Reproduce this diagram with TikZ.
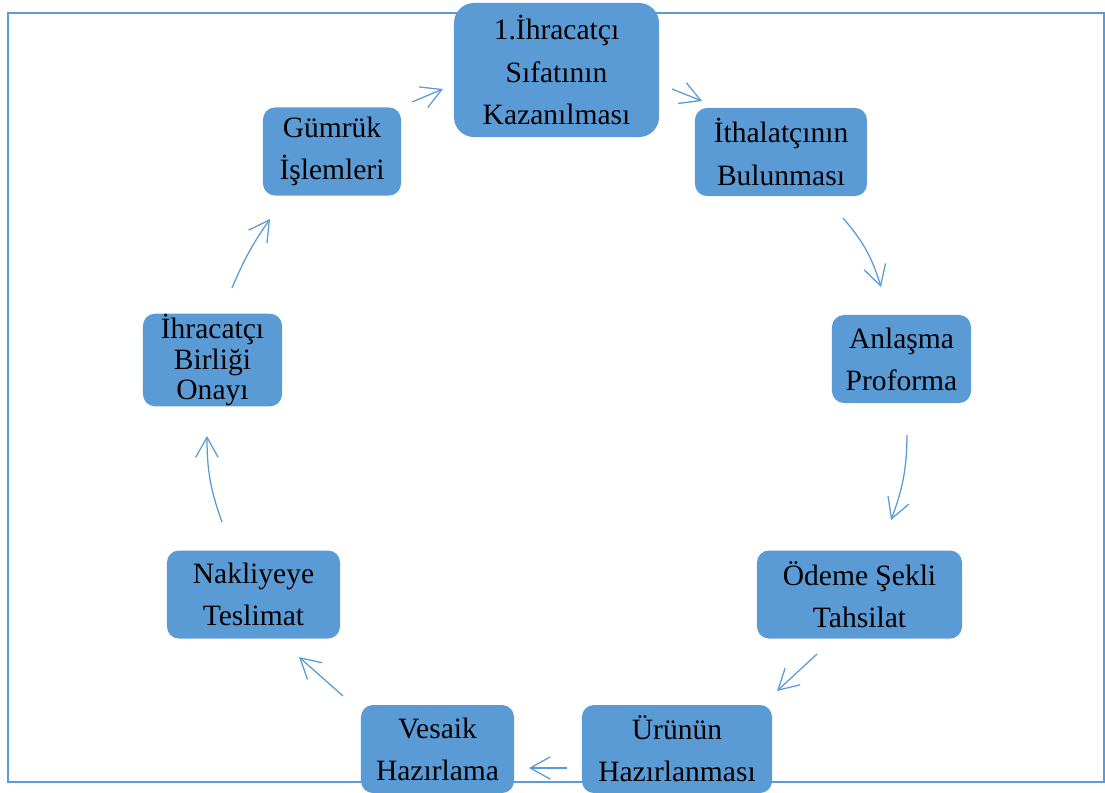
\documentclass[tikz,border=0pt]{standalone}
\usepackage{fontspec}
\setmainfont{Liberation Serif}
\usetikzlibrary{arrows.meta}

\definecolor{ofisMavi}{HTML}{5B9BD5}

\tikzset{
  adim/.style={fill=ofisMavi, rounded corners=0.3cm, align=center, inner sep=0pt,
    font=\fontsize{21}{30}\selectfont, minimum height=2.2cm},
  ok/.style={draw=ofisMavi, line width=0.9pt, -{Straight Barb[length=5mm,width=5.6mm]}}
}

\begin{document}
\begin{tikzpicture}[x=0.025cm, y=-0.025cm]
			%%%%% START %%%%%
			
			\useasboundingbox (0, 0) rectangle (1105, 792);
			\draw[ofisMavi, line width=2pt] (8, 13) rectangle (1104, 782);
			
			\node[adim, minimum width=5.125cm, minimum height=3.35cm, rounded corners=0.5cm] (kazanma) at (556.5, 70) {1.İhracatçı\\Sıfatının\\Kazanılması};
			\node[adim, minimum width=4.3cm] (ithalatci) at (781, 152) {İthalatçının\\Bulunması};
			\node[adim, minimum width=3.475cm] (anlasma) at (901.5, 359) {Anlaşma\\Proforma};
			\node[adim, minimum width=5.125cm] (odeme) at (859.5, 594.5) {Ödeme Şekli\\Tahsilat};
			\node[adim, minimum width=4.75cm] (urun) at (677, 749) {Ürünün\\Hazırlanması};
			\node[adim, minimum width=3.825cm] (vesaik) at (437.5, 749) {Vesaik\\Hazırlama};
			\node[adim, minimum width=4.325cm] (nakliye) at (253.5, 594.5) {Nakliyeye\\Teslimat};
			\node[adim, minimum width=3.475cm, font=\fontsize{21}{22}\selectfont] (birlik) at (212.5, 360) {İhracatçı\\Birliği\\Onayı};
			\node[adim, minimum width=3.45cm] (gumruk) at (332, 151.5) {Gümrük\\İşlemleri};
			
			\coordinate (o1a) at (412, 102);  \coordinate (o1b) at (443, 89);
			\coordinate (o2a) at (672, 89);   \coordinate (o2b) at (702, 101);
			\coordinate (o3a) at (843, 218);  \coordinate (o3b) at (881, 287);
			\coordinate (o4a) at (907, 435);  \coordinate (o4b) at (891, 520);
			\coordinate (o5a) at (817, 654);  \coordinate (o5b) at (777, 691);
			\coordinate (o6a) at (567, 768);  \coordinate (o6b) at (529, 768);
			\coordinate (o7a) at (343, 696);  \coordinate (o7b) at (299, 657);
			\coordinate (o8a) at (222, 522);  \coordinate (o8b) at (207, 436);
			\coordinate (o9a) at (232, 288);  \coordinate (o9b) at (270, 219);
			
			\draw[ok] (o1a) -- (o1b);
			\draw[ok] (o2a) -- (o2b);
			\draw[ok] (o3a) to[bend left=12] (o3b);
			\draw[ok] (o4a) to[bend left=10] (o4b);
			\draw[ok] (o5a) -- (o5b);
			\draw[ok] (o6a) -- (o6b);
			\draw[ok] (o7a) -- (o7b);
			\draw[ok] (o8a) to[bend left=10] (o8b);
			\draw[ok] (o9a) to[bend left=6] (o9b);
			
			%%%%% END %%%%%
		\end{tikzpicture}
\end{document}
